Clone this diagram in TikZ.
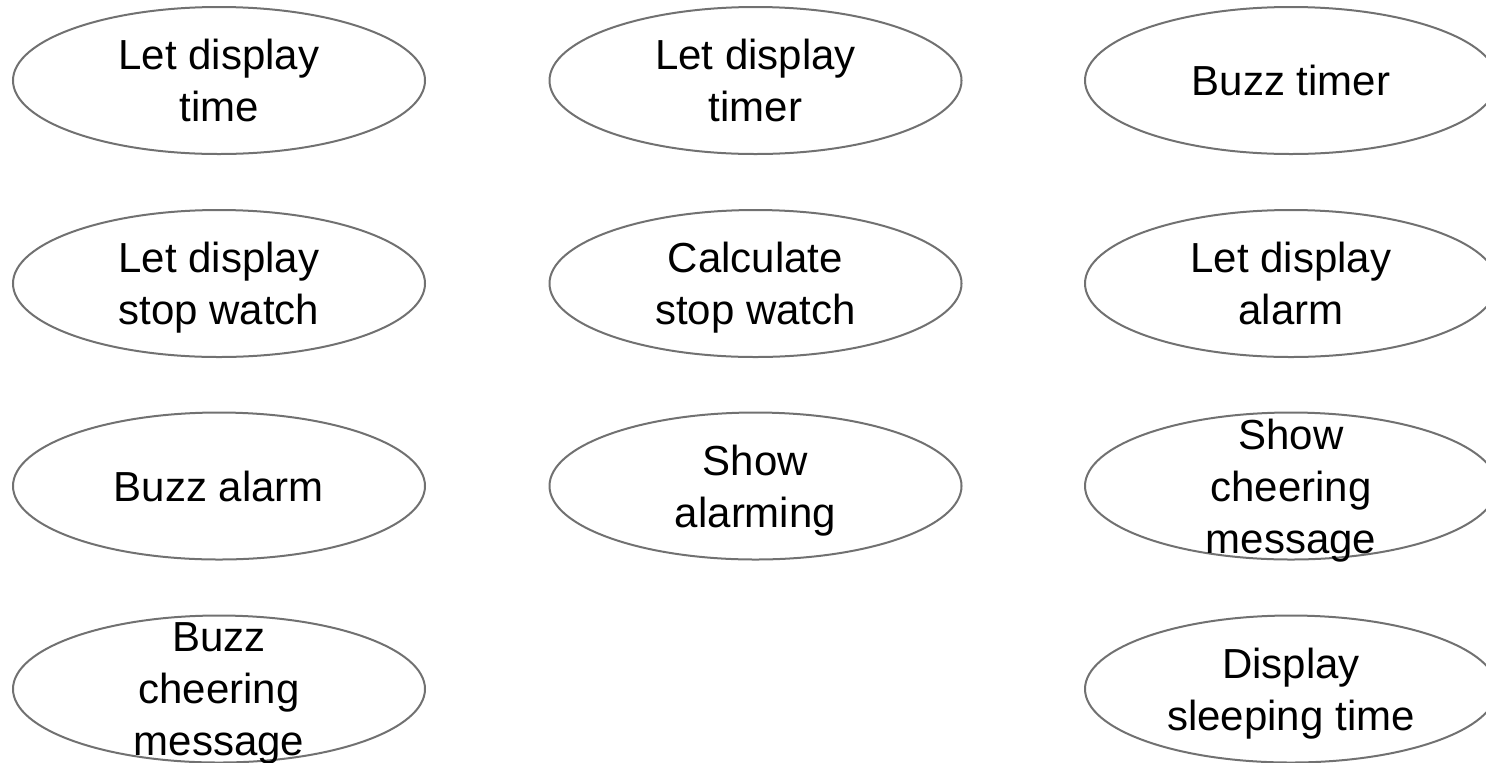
\documentclass[tikz,border=0pt]{standalone}
\usepackage{fontspec}
\setmainfont{Liberation Sans}
\usepackage{xcolor}
\usetikzlibrary{shapes.geometric}

\definecolor{casegray}{HTML}{717171}
\tikzset{
  usecase/.style={ellipse, draw=casegray, line width=1pt, minimum width=206pt, minimum height=73.5pt, inner sep=0pt},
  casetext/.style={align=center, font=\fontsize{21}{26}\selectfont, inner sep=0pt, text depth=0pt}
}

\begin{document}
\begin{tikzpicture}[x=0.5pt, y=-0.5pt]
        \useasboundingbox (0,0) rectangle (1486,762);

        % left column
        \node [usecase] (dtime) at (219,80.5) {};
        \node [casetext] (dtimetxt) at (dtime) {Let display\\time};
        \node [usecase] (dstop) at (219,283.5) {};
        \node [casetext] (dstoptxt) at (dstop) {Let display\\stop watch};
        \node [usecase] (balarm) at (219,486) {};
        \node [casetext] (balarmtxt) at (balarm) {Buzz alarm};
        \node [usecase] (bcheer) at (219,689) {};
        \node [casetext] (bcheertxt) at (bcheer) {Buzz\\cheering\\message};

        % middle column
        \node [usecase] (dtimer) at (755.5,80.5) {};
        \node [casetext] (dtimertxt) at (dtimer) {Let display\\timer};
        \node [usecase] (cstop) at (755.5,283.5) {};
        \node [casetext] (cstoptxt) at (cstop) {Calculate\\stop watch};
        \node [usecase] (salarm) at (755.5,486) {};
        \node [casetext] (salarmtxt) at (salarm) {Show\\alarming};

        % right column
        \node [usecase] (btimer) at (1291,80.5) {};
        \node [casetext] (btimertxt) at (btimer) {Buzz timer};
        \node [usecase] (dalarm) at (1291,283.5) {};
        \node [casetext] (dalarmtxt) at (dalarm) {Let display\\alarm};
        \node [usecase] (scheer) at (1291,486) {};
        \node [casetext] (scheertxt) at (scheer) {Show\\cheering\\message};
        \node [usecase] (dsleep) at (1291,689) {};
        \node [casetext] (dsleeptxt) at (dsleep) {Display\\sleeping time};
\end{tikzpicture}
\end{document}
